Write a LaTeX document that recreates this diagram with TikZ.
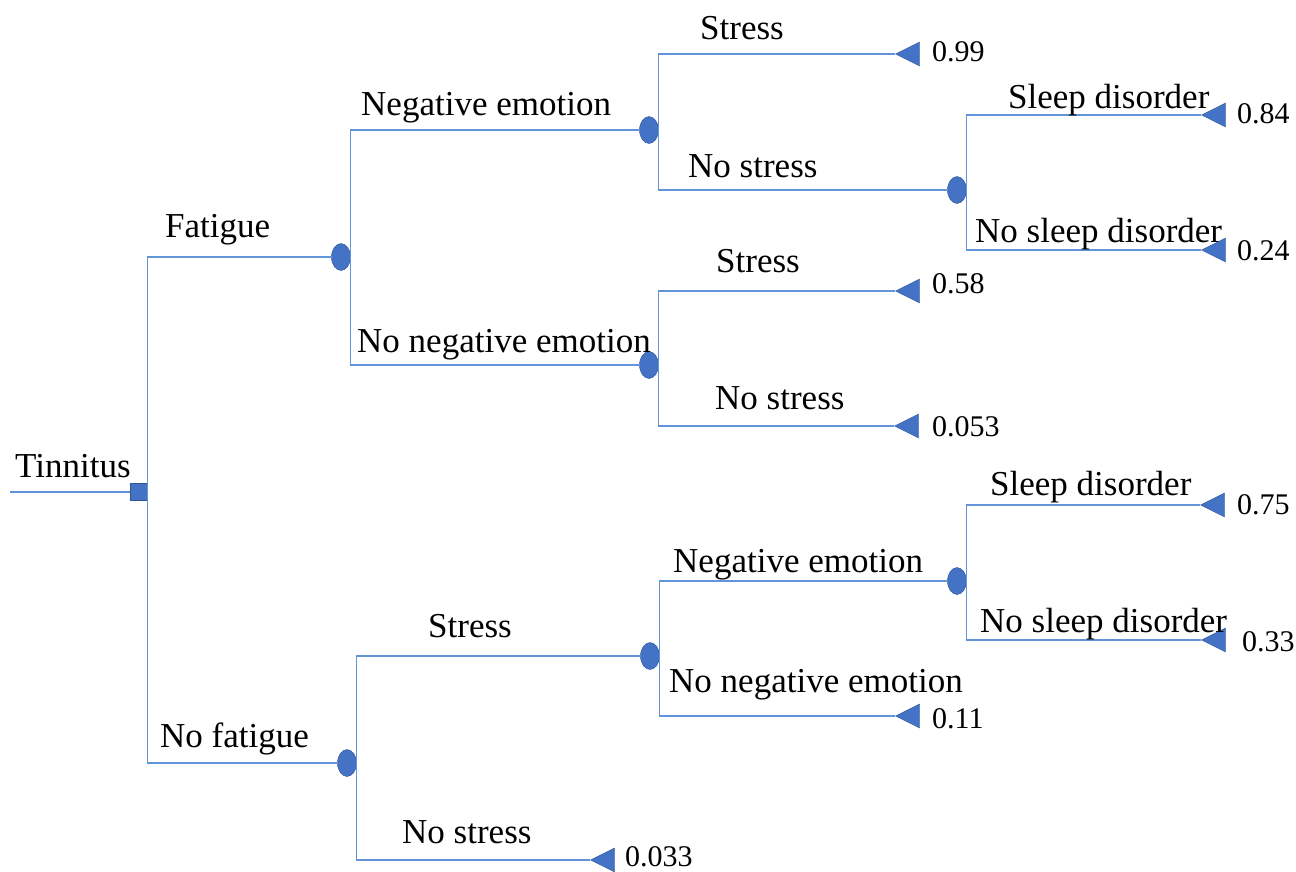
\documentclass[tikz,border=0pt]{standalone}
\usepackage{fontspec}
\setmainfont{Liberation Serif}
\usetikzlibrary{shapes.geometric}
\definecolor{linecol}{RGB}{98,148,218}
\definecolor{nodefill}{RGB}{68,114,196}
\definecolor{nodeedge}{RGB}{47,85,151}
\begin{document}
\begin{tikzpicture}[x=1pt, y=-1pt,
    branch/.style={draw=linecol, line width=1.5pt},
    decision/.style={draw=nodeedge, fill=nodefill, rectangle, minimum size=17pt, inner sep=0pt},
    chance/.style={draw=nodeedge, fill=nodefill, ellipse, minimum width=19pt, minimum height=27pt, inner sep=0pt},
    term/.style={draw=nodeedge, fill=nodefill, isosceles triangle, shape border rotate=180, isosceles triangle stretches, minimum width=24pt, minimum height=24pt, inner sep=0pt, anchor=apex},
    lbl/.style={font=\fontsize{35}{40}\selectfont, inner sep=0pt, anchor=base west},
    val/.style={font=\fontsize{30}{34}\selectfont, inner sep=0pt, anchor=west}]
    \useasboundingbox (0,0) rectangle (1296,871);

    % 决策节点
    \coordinate (in) at (10,492);
    \node[decision] (root) at (139,492) {};

    % 机会节点
    \node[chance] (c1) at (341,257) {};
    \node[chance] (c2) at (347,763) {};
    \node[chance] (c3) at (649,130) {};
    \node[chance] (c4) at (649,365) {};
    \node[chance] (c5) at (957,190) {};
    \node[chance] (c6) at (650,656) {};
    \node[chance] (c7) at (957,581) {};

    % 终端节点
    \node[term] (t1) at (895,54) {};
    \node[term] (t2) at (1201,115) {};
    \node[term] (t3) at (1201,250) {};
    \node[term] (t4) at (895,291) {};
    \node[term] (t5) at (894,426) {};
    \node[term] (t6) at (1200,505) {};
    \node[term] (t7) at (1201,640) {};
    \node[term] (t8) at (895,716) {};
    \node[term] (t9) at (590,860) {};

    % 分支
    \draw[branch] (in) -- (root);
    \draw[branch] (root.east) |- (c1.west);
    \draw[branch] (root.east) |- (c2.west);
    \draw[branch] (c1.east) |- (c3.west);
    \draw[branch] (c1.east) |- (c4.west);
    \draw[branch] (c3.east) |- (t1.apex);
    \draw[branch] (c3.east) |- (c5.west);
    \draw[branch] (c5.east) |- (t2.apex);
    \draw[branch] (c5.east) |- (t3.apex);
    \draw[branch] (c4.east) |- (t4.apex);
    \draw[branch] (c4.east) |- (t5.apex);
    \draw[branch] (c2.east) |- (c6.west);
    \draw[branch] (c2.east) |- (t9.apex);
    \draw[branch] (c6.east) |- (c7.west);
    \draw[branch] (c6.east) |- (t8.apex);
    \draw[branch] (c7.east) |- (t6.apex);
    \draw[branch] (c7.east) |- (t7.apex);

    % 标签
    \node[lbl] (l0) at (15,477) {Tinnitus};
    \node[lbl] (l1) at (165,237) {Fatigue};
    \node[lbl] (l2) at (160,747) {No fatigue};
    \node[lbl] (l3) at (361,115) {Negative emotion};
    \node[lbl] (l4) at (357,352) {No negative emotion};
    \node[lbl] (l5) at (700,39) {Stress};
    \node[lbl] (l6) at (688,177) {No stress};
    \node[lbl] (l7) at (716,272) {Stress};
    \node[lbl] (l8) at (715,409) {No stress};
    \node[lbl] (l9) at (1008,108) {Sleep disorder};
    \node[lbl] (l10) at (975,242) {No sleep disorder};
    \node[lbl] (l11) at (428,637) {Stress};
    \node[lbl] (l12) at (402,843) {No stress};
    \node[lbl] (l13) at (673,572) {Negative emotion};
    \node[lbl] (l14) at (669,692) {No negative emotion};
    \node[lbl] (l15) at (990,495) {Sleep disorder};
    \node[lbl] (l16) at (980,632) {No sleep disorder};

    % 概率值
    \node[val] (v1) at (932,52) {0.99};
    \node[val] (v2) at (1237,114) {0.84};
    \node[val] (v3) at (1237,251) {0.24};
    \node[val] (v4) at (932,284) {0.58};
    \node[val] (v5) at (932,427) {0.053};
    \node[val] (v6) at (1237,505) {0.75};
    \node[val] (v7) at (1242,642) {0.33};
    \node[val] (v8) at (932,719) {0.11};
    \node[val] (v9) at (625,857) {0.033};

\end{tikzpicture}
\end{document}
